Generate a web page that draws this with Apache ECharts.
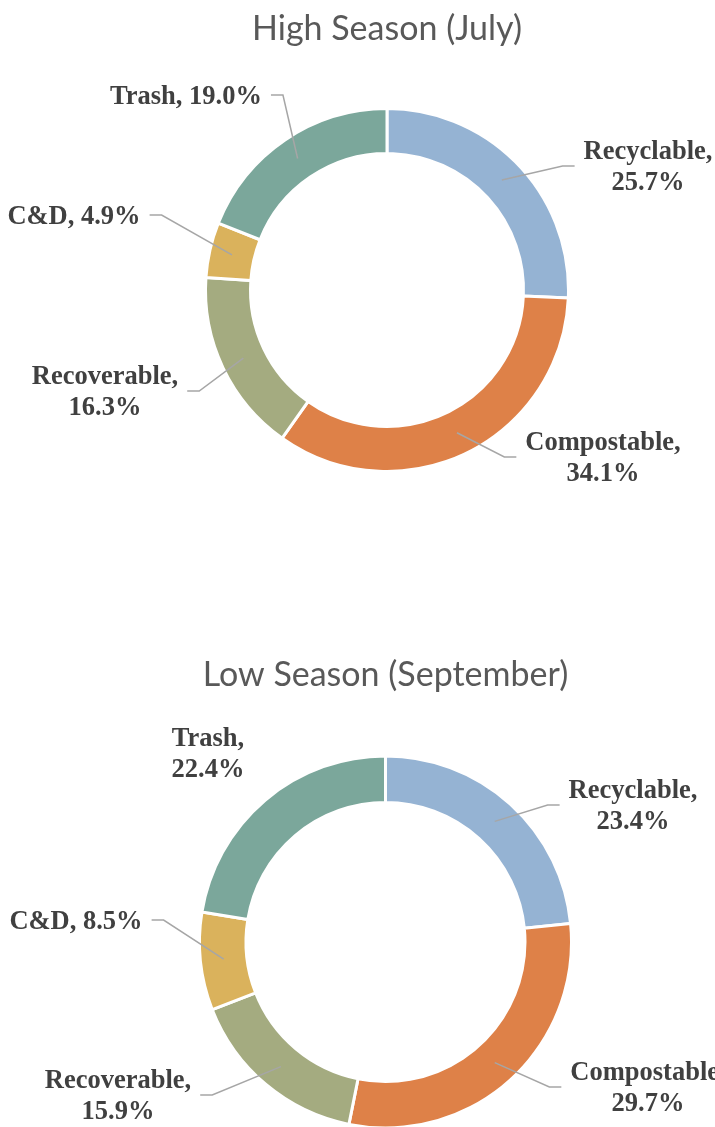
<!DOCTYPE html>
<html lang="en">
<head>
<meta charset="UTF-8">
<title>Waste composition</title>
<script src="https://cdn.jsdelivr.net/npm/echarts@6/dist/echarts.min.js"></script>
<style>
  html, body { margin: 0; background: #fff; }
  #main { width: 715px; height: 1127px; }
</style>
</head>
<body>
<div id="main"></div>
<script>
const categories = ['Recyclable', 'Compostable', 'Recoverable', 'C&D', 'Trash'];
const highSeason = [25.7, 34.1, 16.3, 4.9, 19.0];
const lowSeason = [23.4, 29.7, 15.9, 8.5, 22.4];
const colors = ['#95B3D3', '#DE8148', '#A4AB80', '#DAB25C', '#7BA79B'];

// where each label sits (its centre) and whether it breaks after the comma
const highLabelAt = [[648, 168], [603, 459], [105, 393], [74, 217], [186, 97]];
const lowLabelAt = [[633, 807], [648, 1089], [118, 1097], [76, 922], [208, 755]];
const highWrap = [true, true, true, false, false];
const lowWrap = [true, true, true, false, true];
const highLine = [true, true, true, true, true];
const lowLine = [true, true, true, true, false];

const highCentre = [387, 290];
const lowCentre = [385.5, 942];

function buildData(values, wrap, line, withColour) {
    return categories.map((name, i) => ({
        name: name,
        value: values[i],
        itemStyle: { color: withColour ? colors[i] : 'rgba(0,0,0,0)' },
        label: { formatter: name + ',' + (wrap[i] ? '\n' : ' ') + values[i].toFixed(1) + '%' },
        labelLine: { show: line[i] }
    }));
}

// put the label where Excel had it, and run the leader line from the middle of the ring
function makeLayout(centre, rMid, labelAt) {
    return function (params) {
        const lx = labelAt[params.dataIndex][0];
        const ly = labelAt[params.dataIndex][1];
        const out = { x: lx, y: ly, align: 'center', verticalAlign: 'middle' };
        const pts = params.labelLinePoints;
        if (pts) {
            const dx = pts[0][0] - centre[0];
            const dy = pts[0][1] - centre[1];
            const len = Math.sqrt(dx * dx + dy * dy);
            const inner = [centre[0] + dx / len * rMid, centre[1] + dy / len * rMid];
            const half = params.labelRect.width / 2;
            const right = lx > centre[0];
            const x0 = right ? lx - half - 9 : lx + half + 9;
            const x1 = right ? x0 - 12 : x0 + 12;
            out.labelLinePoints = [inner, [x1, ly - 2], [x0, ly - 2]];
        }
        return out;
    };
}

const labelStyle = {
    show: true,
    position: 'outside',
    color: '#404040',
    fontFamily: 'Liberation Serif',
    fontWeight: 'bold',
    fontSize: 26.5,
    lineHeight: 31
};

// the coloured ring itself, no labels
function ring(centre, radius, values) {
    return {
        type: 'pie',
        z: 2,
        center: centre,
        radius: radius,
        startAngle: 90,
        clockwise: true,
        silent: true,
        animation: false,
        itemStyle: { borderColor: '#fff', borderWidth: 3 },
        label: { show: false },
        labelLine: { show: false },
        data: buildData(values, highWrap, highLine, true)
    };
}

// a see-through copy on top that carries the labels, so the leader lines sit over the ring
function labels(centre, radius, values, wrap, line, labelAt) {
    return {
        type: 'pie',
        z: 3,
        center: centre,
        radius: radius,
        startAngle: 90,
        clockwise: true,
        avoidLabelOverlap: false,
        silent: true,
        animation: false,
        itemStyle: { borderWidth: 0 },
        label: labelStyle,
        labelLine: { length: 10, length2: 10, lineStyle: { color: '#A6A6A6', width: 1.5 } },
        labelLayout: makeLayout(centre, (radius[0] + radius[1]) / 2, labelAt),
        data: buildData(values, wrap, line, false)
    };
}

const chart = echarts.init(document.getElementById('main'), null, { renderer: 'canvas' });
const titleStyle = { color: '#595959', fontFamily: 'Lato', fontWeight: 'normal', fontSize: 34 };
chart.setOption({
    backgroundColor: '#fff',
    animation: false,
    title: [
        { text: 'High Season (July)', left: highCentre[0], textAlign: 'center', top: 12, padding: 0, textStyle: titleStyle },
        { text: 'Low Season (September)', left: lowCentre[0], textAlign: 'center', top: 658, padding: 0, textStyle: titleStyle }
    ],
    series: [
        ring(highCentre, [136.5, 181.5], highSeason),
        ring(lowCentre, [139.5, 186], lowSeason),
        labels(highCentre, [136.5, 181.5], highSeason, highWrap, highLine, highLabelAt),
        labels(lowCentre, [139.5, 186], lowSeason, lowWrap, lowLine, lowLabelAt)
    ]
});
</script>
</body>
</html>
